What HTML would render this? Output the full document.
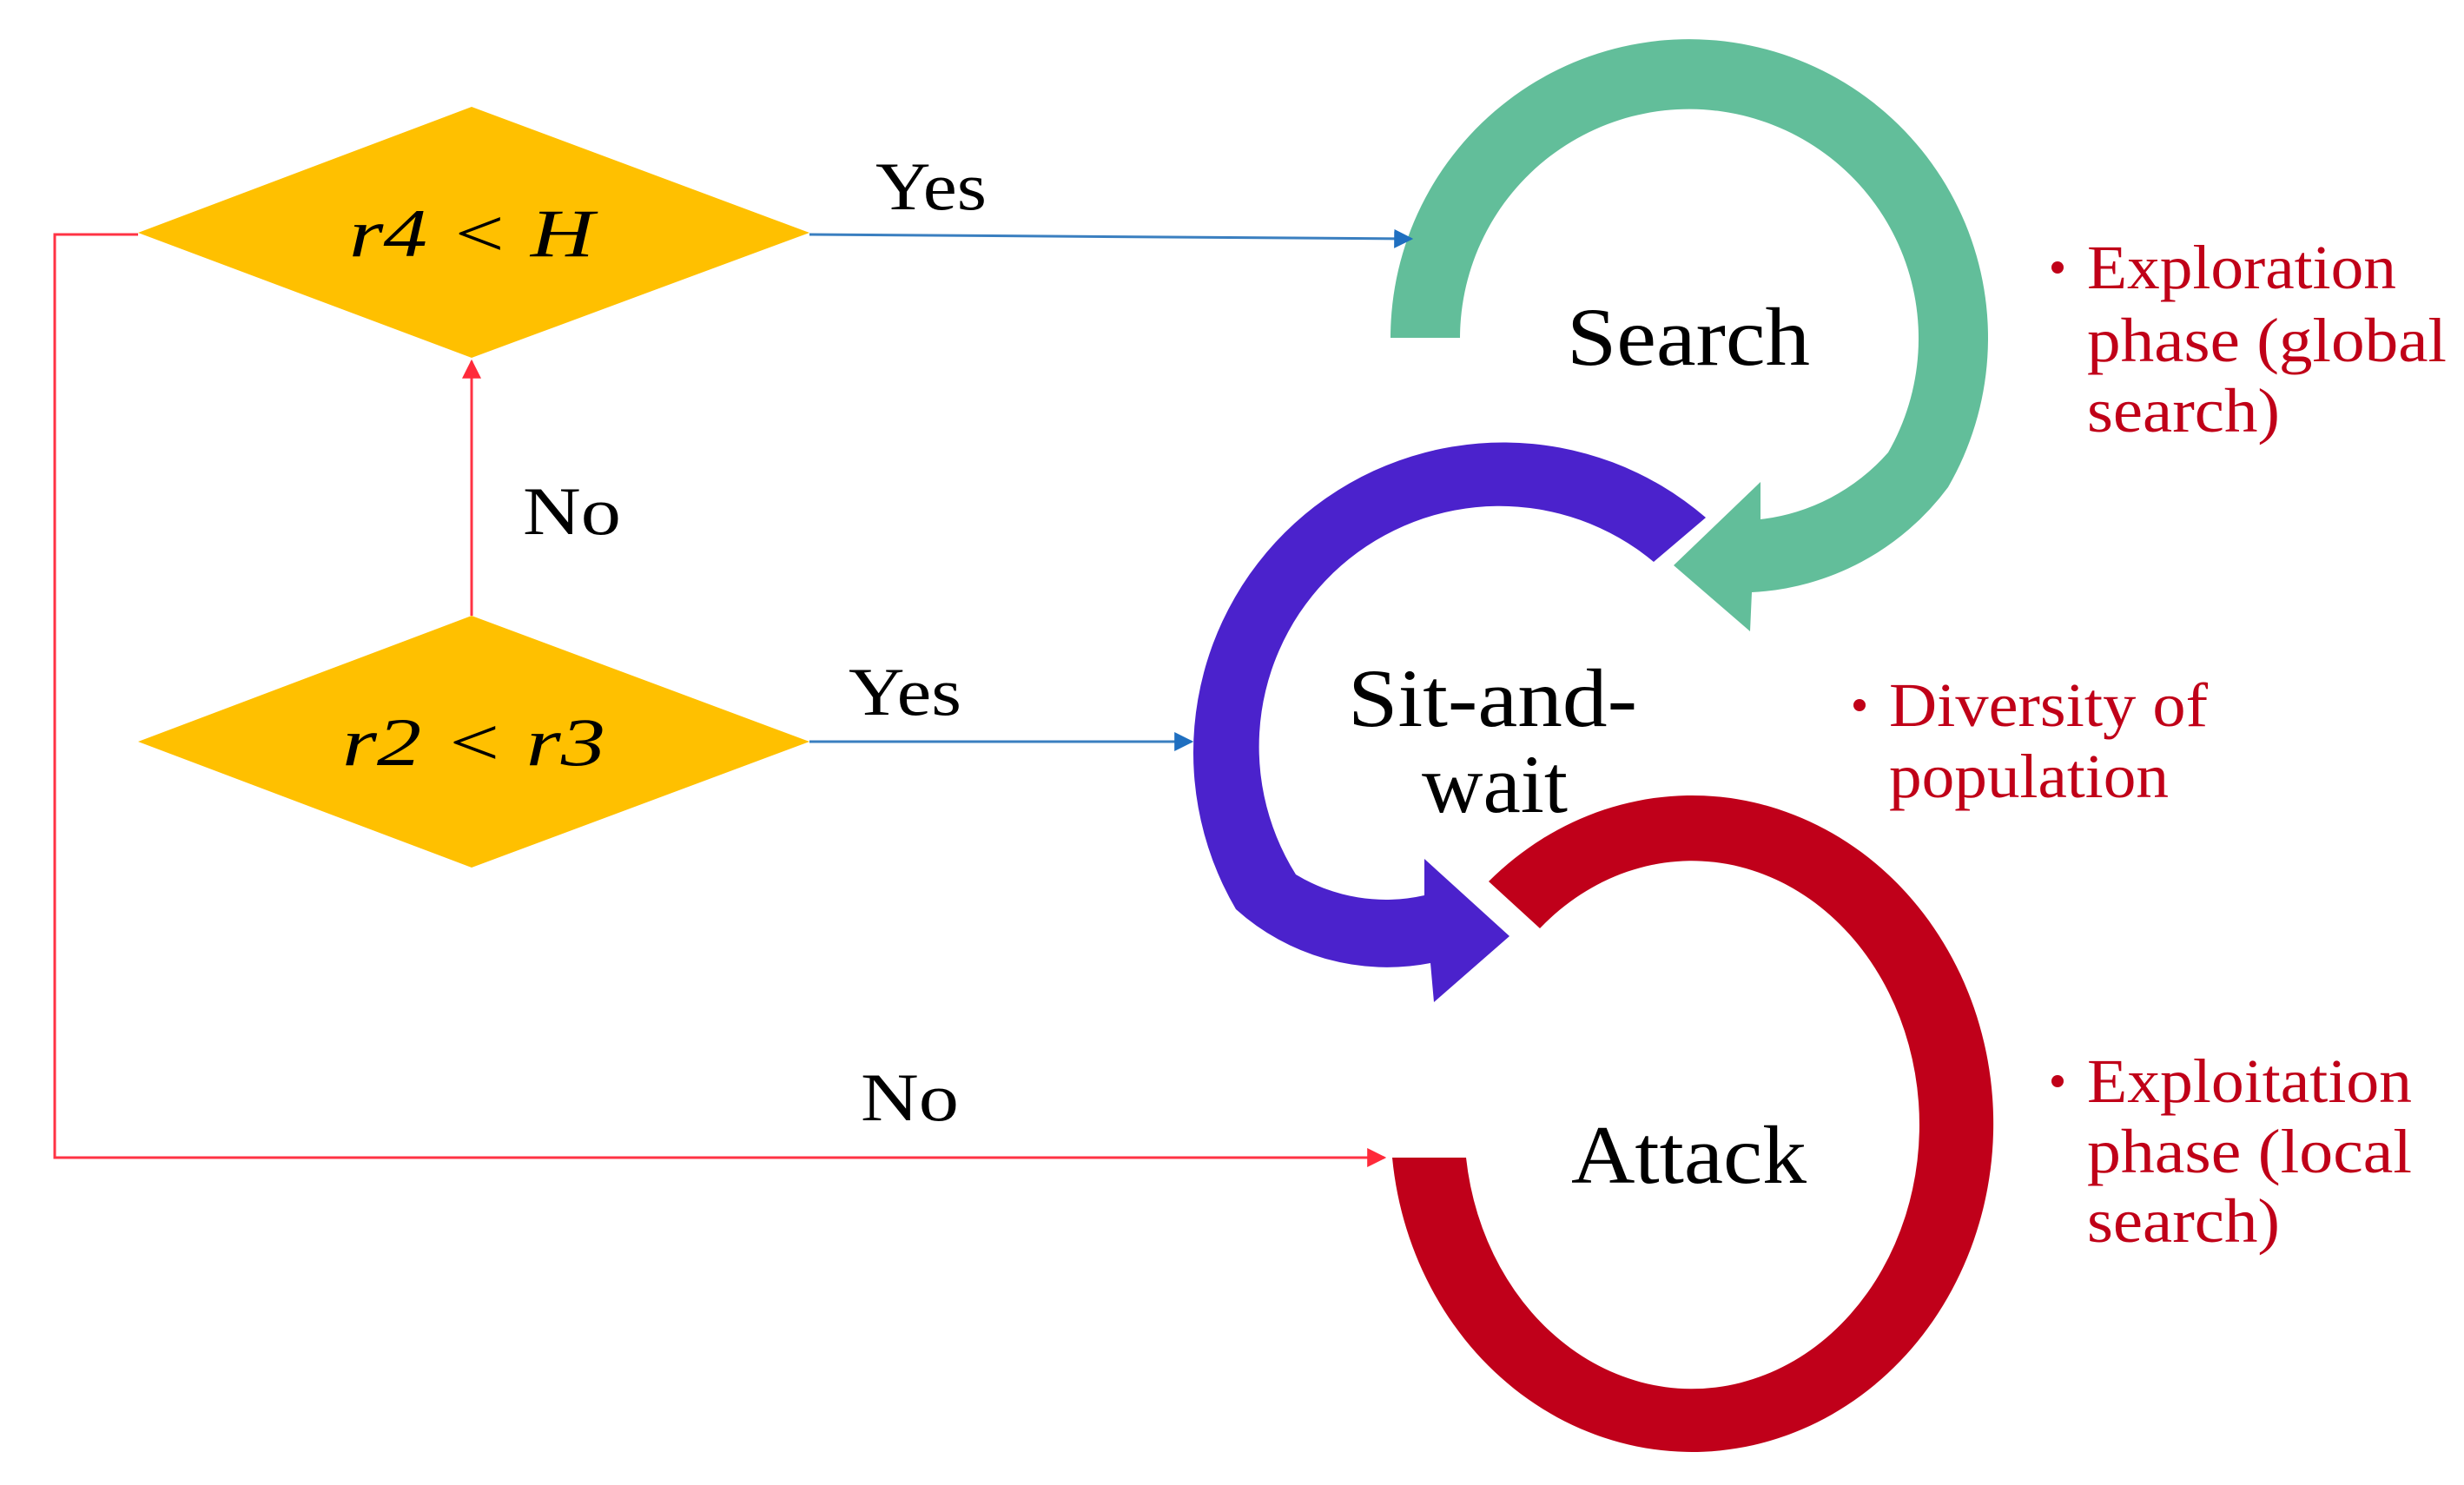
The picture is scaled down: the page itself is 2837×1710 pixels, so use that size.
<!DOCTYPE html>
<html><head><meta charset="utf-8">
<style>
html,body{margin:0;padding:0;background:#fff;}
svg{display:block;}
text{font-family:"Liberation Serif",serif;}
</style></head>
<body>
<svg width="2837" height="1710" viewBox="0 0 2837 1710" xmlns="http://www.w3.org/2000/svg">
<defs>
<marker id="ab" viewBox="0 0 10 10" refX="9" refY="5" markerWidth="22" markerHeight="22" markerUnits="userSpaceOnUse" orient="auto"><path d="M0,0 L10,5 L0,10 Z" fill="#1F6FC0"/></marker>
<marker id="ar" viewBox="0 0 10 10" refX="9" refY="5" markerWidth="22" markerHeight="22" markerUnits="userSpaceOnUse" orient="auto"><path d="M0,0 L10,5 L0,10 Z" fill="#FF2A3A"/></marker>
</defs>
<!-- diamonds -->
<polygon points="159,268 543,123 932,268 543,412" fill="#FFC000"/>
<polygon points="159,854 543,709 932,854 543,999" fill="#FFC000"/>
<text x="402" y="295" font-size="78" font-style="italic" textLength="282" lengthAdjust="spacingAndGlyphs">r4 &lt; H</text>
<text x="394" y="881" font-size="78" font-style="italic" textLength="303" lengthAdjust="spacingAndGlyphs">r2 &lt; r3</text>
<!-- labels -->
<text x="1008" y="241" font-size="78" textLength="128" lengthAdjust="spacingAndGlyphs">Yes</text>
<text x="602" y="615" font-size="78" textLength="113" lengthAdjust="spacingAndGlyphs">No</text>
<text x="977" y="823" font-size="78" textLength="130" lengthAdjust="spacingAndGlyphs">Yes</text>
<text x="991" y="1290" font-size="78" textLength="113" lengthAdjust="spacingAndGlyphs">No</text>
<!-- green arc -->
<path d="M1601,389 A344,344 0 1 1 2243,561 A300,300 0 0 1 2017,682 L2015,727 L1927,651 L2027,555 L2027,598 A230,230 0 0 0 2174,521 A264,264 0 1 0 1681,389 Z" fill="#62BE9A"/>
<!-- purple arc -->
<path d="M1964,596 A357,357 0 0 0 1423,1047 A260,260 0 0 0 1647,1109 L1651,1154 L1738,1078 L1640,989 L1640,1031 A200,200 0 0 1 1492,1007 A277,277 0 0 1 1904,647 Z" fill="#4B22CC"/>
<!-- red arc -->
<path d="M1603,1333 A347,378 0 1 0 1714,1015 L1773,1069 A262,304 0 1 1 1688,1333 Z" fill="#C0001A"/>
<!-- connectors -->
<g stroke-width="3" fill="none">
<path d="M932,270 L1625,275" stroke="#3A7FC0" marker-end="url(#ab)"/>
<path d="M932,854 L1372,854" stroke="#3A7FC0" marker-end="url(#ab)"/>
<path d="M543,709 L543,416" stroke="#FF3344" marker-end="url(#ar)"/>
<path d="M159,270 L63,270 L63,1333 L1594,1333" stroke="#FF3344" marker-end="url(#ar)"/>
</g>
<!-- center labels -->
<text x="1804" y="420" font-size="95" textLength="280" lengthAdjust="spacingAndGlyphs">Search</text>
<text x="1552" y="836" font-size="95" textLength="333" lengthAdjust="spacingAndGlyphs">Sit-and-</text>
<text x="1637" y="935" font-size="95" textLength="168" lengthAdjust="spacingAndGlyphs">wait</text>
<text x="1809" y="1362" font-size="95" textLength="271" lengthAdjust="spacingAndGlyphs">Attack</text>
<!-- red notes -->
<g fill="#C00018" font-size="72">
<circle cx="2369" cy="308" r="7"/>
<text x="2403" y="332" textLength="356" lengthAdjust="spacingAndGlyphs">Exploration</text>
<text x="2403" y="416" textLength="414" lengthAdjust="spacingAndGlyphs">phase (global</text>
<text x="2403" y="497" textLength="222" lengthAdjust="spacingAndGlyphs">search)</text>
<circle cx="2141" cy="812" r="7"/>
<text x="2175" y="836" textLength="367" lengthAdjust="spacingAndGlyphs">Diversity of</text>
<text x="2175" y="918" textLength="322" lengthAdjust="spacingAndGlyphs">population</text>
<circle cx="2369" cy="1245" r="7"/>
<text x="2403" y="1269" textLength="374" lengthAdjust="spacingAndGlyphs">Exploitation</text>
<text x="2403" y="1350" textLength="374" lengthAdjust="spacingAndGlyphs">phase (local</text>
<text x="2403" y="1430" textLength="222" lengthAdjust="spacingAndGlyphs">search)</text>
</g>
</svg>
</body></html>
